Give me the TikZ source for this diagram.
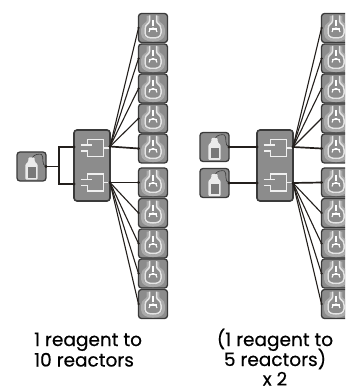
\documentclass[tikz,border=0pt]{standalone}
\usepackage{fontspec}
\setmainfont{Poppins}
\newfontfamily\capfont{Poppins}[FakeBold=0.5]
\definecolor{boxgray}{HTML}{8C8C8C}
\definecolor{edgedark}{HTML}{3A3A3A}
\definecolor{wirec}{HTML}{231F1C}
\definecolor{halo}{HTML}{ABABAB}
\tikzset{
  unitbox/.style={draw=edgedark,line width=1.3pt,fill=boxgray,rounded corners=3pt,inner sep=0pt,outer sep=0pt,minimum width=29pt,minimum height=29pt},
  splitbox/.style={unitbox,line width=1.6pt,minimum width=36pt,minimum height=71pt},
  thickwire/.style={wirec,line width=1.7pt},
  thinwire/.style={wirec,line width=1.1pt},
  caption/.style={font=\capfont\fontsize{18.5}{20.5}\selectfont,inner sep=0pt,text=black},
  pics/reactoricon/.style={code={
    \draw[halo,line width=2.6pt,line join=round] (-5,-12) -- (-5,-7) .. controls (-5,-4) and (-10.5,-4) .. (-10.5,1) -- (-10.5,6) .. controls (-10.5,10) and (-6,12.3) .. (0,12.3) .. controls (6,12.3) and (10.5,10) .. (10.5,6) -- (10.5,1) .. controls (10.5,-4) and (5,-4) .. (5,-7) -- (5,-12);
    \draw[white!90!black,line width=1.5pt] (-3.5,-12.5) -- (-3.5,-7) .. controls (-3.5,-4) and (-8,-4) .. (-8,1) -- (-8,5) .. controls (-8,9) and (-4,10) .. (0,10) .. controls (4,10) and (8,9) .. (8,5) -- (8,1) .. controls (8,-4) and (3.5,-4) .. (3.5,-7) -- (3.5,-12.5);
    \draw[white,line width=1.1pt] (0,-8) -- (0,-2);
    \draw[white,line width=1.1pt] (-4,1) -- (4,1);
    \draw[white,line width=1.1pt] (-4,4) arc[start angle=180,end angle=360,radius=4];
  }},
  pics/bottleicon/.style={code={
    \fill[white!92!black,rounded corners=1pt] (-3.2,-9) -- (3.2,-9) -- (3.2,-5) -- (6.2,-2) -- (6.2,13) -- (-6.2,13) -- (-6.2,-2) -- (-3.2,-5) -- cycle;
    \fill[gray!95!black] (-4,1) rectangle (4,11);
    \draw[edgedark,line width=.6pt] (1,-9) .. controls (2,-12) and (8,-13) .. (10,-12) .. controls (13,-10) and (9,-1) .. (15,0);
  }},
  pics/plugicon/.style={code={
    \draw[white!94!black,line width=1.9pt,line join=miter] (-4,-3) -- (-8,-3) -- (-8,-8.5) -- (8,-8.5) -- (8,8.5) -- (-8,8.5) -- (-8,3) -- (-15,3);
    \draw[white!94!black,line width=1.9pt] (-15,-3) -- (-4,-3);
    \draw[white!94!black,line width=1.9pt] (8,0) -- (13,0);
  }},
  portdot/.style={circle,fill=wirec,inner sep=0pt,minimum size=3.4pt}
}
\begin{document}
\begin{tikzpicture}[x=1pt,y=-1pt]
\useasboundingbox (0,0) rectangle (345,387);
\clip (0,0) rectangle (345,387);
% reactor columns
\foreach \i/\yy in {1/28,2/58.5,3/88.5,4/118.5,5/148.5,6/182.5,7/213,8/243.5,9/273.5,10/304}{
  \node[unitbox] (r\i) at (153,\yy) {};
  \pic at (r\i.center) {reactoricon};
  \node[unitbox] (q\i) at (336,\yy) {};
  \pic at (q\i.center) {reactoricon};
}
% left group
\node[unitbox] (srcA) at (31.5,166.5) {};
\pic at (srcA.center) {bottleicon};
\node[splitbox] (splA) at (92,165.5) {};
\coordinate (aIn1) at (74,147);
\coordinate (aIn2) at (74,184);
\coordinate (aOut1) at (110,146.5);
\coordinate (aOut2) at (110,182.5);
\pic at (95.5,148) {plugicon};
\pic at (95.5,182.5) {plugicon};
% right group
\node[unitbox] (srcB) at (214.5,147) {};
\pic at (srcB.center) {bottleicon};
\node[unitbox] (srcC) at (214.5,183) {};
\pic at (srcC.center) {bottleicon};
\node[splitbox] (splB) at (275,165.5) {};
\coordinate (bIn1) at (257,147);
\coordinate (bIn2) at (257,183);
\coordinate (bOut1) at (293,147);
\coordinate (bOut2) at (293,183);
\pic at (278.5,148) {plugicon};
\pic at (278.5,182.5) {plugicon};
% connectors
\draw[thickwire] (srcA.east) -- ++(13,0) coordinate (jn) (aIn1) -| (jn) |- (aIn2);
\draw[thickwire] (srcB.east) -- (bIn1);
\draw[thickwire] (srcC.east) -- (bIn2);
\draw[thickwire] (aOut1) -- (r5.west);
\draw[thickwire] (aOut2) -- (r6.west);
\draw[thickwire] (bOut1) -- (q5.west);
\draw[thickwire] (bOut2) -- (q6.west);
\foreach \i in {1,2,3,4}{
  \draw[thinwire] (aOut1) -- (r\i.west);
  \draw[thinwire] (bOut1) -- (q\i.west);
  \node[portdot,minimum size=2.5pt] at (r\i.west) {};
  \node[portdot,minimum size=2.5pt] at (q\i.west) {};
}
\foreach \i in {7,8,9,10}{
  \draw[thinwire] (aOut2) -- (r\i.west);
  \draw[thinwire] (bOut2) -- (q\i.west);
  \node[portdot,minimum size=2.5pt] at (r\i.west) {};
  \node[portdot,minimum size=2.5pt] at (q\i.west) {};
}
\foreach \p in {aIn1,aIn2,aOut1,aOut2,bIn1,bIn2,bOut1,bOut2,srcA.east,srcB.east,srcC.east,r5.west,r6.west,q5.west,q6.west}{
  \node[portdot] at (\p) {};
}
% captions
\node[caption,anchor=base west] (capA1) at (34,346) {1 reagent to};
\node[caption,anchor=base west] (capA2) at (34,366.5) {10 reactors};
\node[caption,anchor=base] (capB1) at (275,346) {(1 reagent to};
\node[caption,anchor=base] (capB2) at (275,366) {5 reactors)};
\node[caption,anchor=base] (capB3) at (275,385.5) {x 2};
\end{tikzpicture}
\end{document}
